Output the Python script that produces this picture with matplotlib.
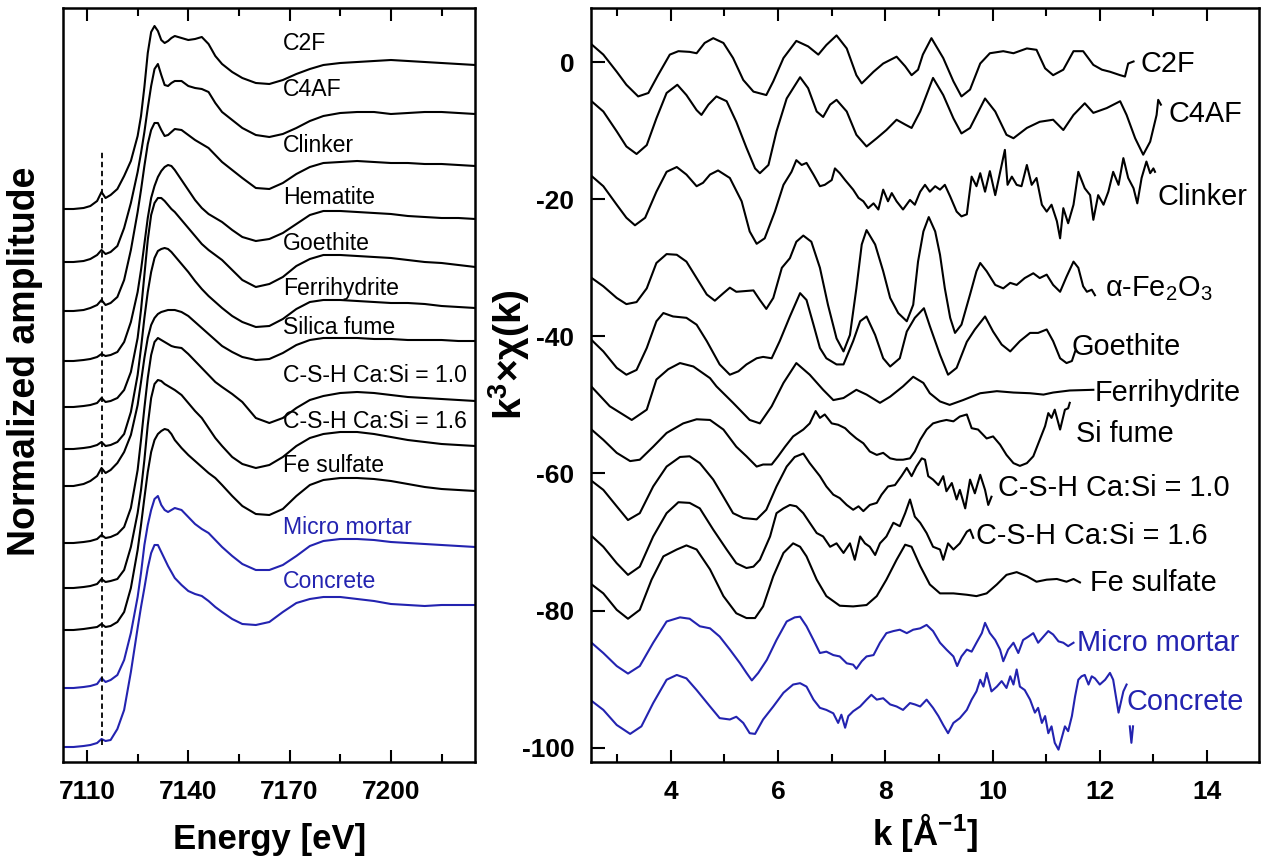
import matplotlib.pyplot as plt
from matplotlib.ticker import MultipleLocator

plt.rcParams['font.family'] = 'Liberation Sans'
plt.rcParams['font.weight'] = 'bold'
plt.rcParams['axes.unicode_minus'] = False
plt.rcParams['mathtext.fontset'] = 'custom'
plt.rcParams['mathtext.rm'] = 'Liberation Sans:regular'
plt.rcParams['mathtext.bf'] = 'Liberation Sans:bold'
plt.rcParams['mathtext.it'] = 'Liberation Sans:italic:regular'

BLUE = '#2323b0'

# ---------------- XANES data (stacked amplitude, a.u.) ----------------
energy = [7103, 7106, 7109, 7111, 7113, 7114.3, 7115.5, 7117, 7119, 7121,
          7123, 7125, 7126, 7127, 7128, 7129, 7130, 7131, 7132, 7133,
          7134, 7135, 7136, 7138, 7140, 7142, 7144, 7146, 7148, 7150,
          7153, 7156, 7160, 7164, 7168, 7172, 7176, 7180, 7185, 7190,
          7195, 7200, 7205, 7210, 7215, 7220, 7225]

xanes_c2f = [553, 553, 554, 556, 561, 570, 564, 567, 573, 586, 601, 626, 646, 675, 709, 730,
             736, 731, 722, 719, 721, 724, 726, 724, 722, 723, 725, 718, 706, 698, 690, 684,
             679, 678, 682, 688, 693, 697, 699, 700, 701, 702, 701, 700, 699, 698, 697]
xanes_c4af = [500, 500, 501, 503, 507, 512, 508, 510, 516, 534, 559, 590, 609, 630, 654, 676,
              693, 698, 687, 677, 676, 679, 681, 681, 676, 674, 673, 670, 659, 650, 642, 634,
              627, 625, 628, 634, 641, 646, 649, 650, 650, 648, 649, 650, 650, 649, 648]
xanes_clinker = [451, 451, 452, 454, 457, 462, 457, 459, 465, 482, 512, 550, 572, 596, 618, 632,
                 639, 639, 632, 626, 627, 630, 633, 632, 627, 622, 618, 614, 607, 600, 592, 584,
                 574, 573, 579, 588, 595, 599, 600, 601, 600, 599, 599, 598, 598, 597, 596]
xanes_hematite = [401, 401, 402, 403, 405, 408, 406, 407, 410, 420, 440, 470, 492, 518, 544, 564,
                  576, 585, 591, 595, 597, 596, 592, 582, 572, 562, 554, 548, 544, 540, 532, 525,
                  521, 523, 529, 538, 547, 551, 551, 550, 549, 548, 546, 545, 544, 544, 543]
xanes_goethite = [355, 355, 356, 357, 359, 364, 360, 361, 364, 372, 390, 424, 452, 487, 522, 547,
                  559, 564, 564, 561, 557, 553, 550, 542, 534, 526, 518, 512, 507, 502, 492, 482,
                  475, 478, 485, 496, 503, 507, 507, 506, 505, 504, 502, 500, 499, 497, 495]
xanes_ferrihydrite = [313, 313, 314, 315, 317, 320, 316, 317, 320, 328, 350, 387, 414, 444, 470, 490,
                      504, 511, 513, 514, 513, 510, 506, 498, 490, 481, 473, 466, 460, 454, 446, 440,
                      435, 436, 443, 453, 460, 462, 462, 461, 460, 459, 459, 458, 456, 455, 454]
xanes_silica = [276, 276, 278, 281, 286, 294, 289, 292, 299, 310, 327, 357, 380, 404, 424, 437,
                444, 448, 450, 451, 452, 452, 452, 450, 446, 440, 434, 428, 422, 416, 410, 405,
                402, 403, 409, 417, 422, 424, 424, 424, 423, 423, 422, 422, 422, 421, 421]
xanes_csh10 = [219, 219, 220, 221, 223, 227, 224, 225, 228, 235, 254, 292, 322, 354, 384, 407,
               420, 424, 422, 420, 418, 416, 415, 414, 408, 401, 394, 387, 380, 375, 368, 360,
               344, 339, 344, 354, 362, 366, 369, 370, 369, 367, 365, 364, 363, 362, 361]
xanes_csh16 = [174, 174, 175, 176, 178, 183, 180, 181, 183, 192, 215, 249, 272, 302, 337, 364,
               378, 382, 381, 378, 376, 374, 372, 367, 359, 351, 344, 334, 324, 316, 305, 298,
               294, 297, 305, 316, 324, 328, 330, 330, 328, 325, 322, 320, 318, 317, 316]
xanes_fesulfate = [132, 132, 133, 134, 135, 138, 135, 136, 140, 150, 174, 212, 237, 264, 290, 310,
                   322, 328, 331, 333, 332, 328, 322, 314, 307, 301, 295, 289, 284, 277, 266, 256,
                   248, 247, 253, 266, 277, 282, 284, 284, 283, 281, 278, 275, 273, 272, 271]
xanes_mortar = [74, 74, 75, 76, 78, 84, 80, 82, 87, 102, 129, 165, 189, 217, 237, 252,
                263, 266, 257, 252, 250, 252, 254, 252, 245, 238, 233, 229, 222, 215, 206, 198,
                192, 192, 197, 206, 216, 221, 223, 223, 222, 220, 219, 218, 217, 216, 215]
xanes_concrete = [15, 15, 16, 17, 19, 23, 21, 22, 33, 52, 90, 134, 155, 174, 194, 209,
                  217, 217, 210, 203, 196, 190, 184, 177, 171, 168, 166, 161, 155, 150, 143, 138,
                  137, 140, 150, 159, 163, 165, 165, 163, 161, 158, 157, 156, 157, 157, 157]

xanes_labels = ['C2F', 'C4AF', 'Clinker', 'Hematite', 'Goethite', 'Ferrihydrite',
                'Silica fume', 'C-S-H Ca:Si = 1.0', 'C-S-H Ca:Si = 1.6', 'Fe sulfate',
                'Micro mortar', 'Concrete']
xanes_label_y = [718, 672, 617, 565, 519, 474, 435, 387, 340, 296, 235, 181]
pre_edge_energy = 7114.4

# ---------------- EXAFS data ----------------
k_c2f = [2.49, 2.74, 2.99, 3.17, 3.39, 3.58, 3.76, 3.98, 4.14, 4.35, 4.48, 4.63, 4.79, 4.98, 5.16,
         5.35, 5.54, 5.78, 5.91, 6.10, 6.34, 6.56, 6.75, 6.90, 7.09, 7.28, 7.46, 7.56, 7.78, 7.96,
         8.21, 8.37, 8.49, 8.61, 8.70, 8.86, 9.08, 9.27, 9.42, 9.58, 9.77, 9.95, 10.20, 10.39, 10.64,
         10.82, 10.98, 11.13, 11.32, 11.51, 11.69, 11.88, 12.04, 12.19, 12.38, 12.47, 12.53, 12.63]
chi_c2f = [2.8, 1.1, -1.4, -3.3, -5.0, -4.5, -1.9, 1.1, 1.6, 1.5, 1.3, 2.8, 3.5, 2.8, 0.6,
           -2.6, -4.3, -4.8, -2.8, 0.6, 3.1, 2.3, 1.1, 2.5, 3.9, 2.0, -1.9, -3.1, -1.4, -0.2,
           0.8, -0.6, -1.9, -1.1, 1.1, 3.5, 0.6, -2.8, -5.0, -4.0, -0.2, 1.3, 1.6, 1.3, 2.0,
           1.8, -0.9, -1.9, -1.1, 1.6, 1.6, -0.4, -1.1, -1.4, -1.9, -2.1, -0.2, 0.1]

k_c4af = [2.49, 2.74, 2.99, 3.17, 3.36, 3.55, 3.73, 3.92, 4.12, 4.29, 4.48, 4.57, 4.70, 4.85, 5.04,
          5.22, 5.41, 5.57, 5.66, 5.82, 5.97, 6.16, 6.41, 6.56, 6.72, 6.84, 6.97, 7.09, 7.28, 7.46,
          7.65, 7.84, 8.02, 8.21, 8.37, 8.49, 8.65, 8.89, 9.08, 9.27, 9.42, 9.58, 9.86, 10.05, 10.26,
          10.39, 10.64, 10.88, 11.13, 11.32, 11.51, 11.72, 11.88, 12.13, 12.38, 12.50, 12.66, 12.81,
          12.94, 13.06, 13.09, 13.14]
chi_c4af = [-5.5, -7.2, -10.1, -12.3, -13.4, -12.1, -8.2, -4.5, -3.3, -4.8, -7.0, -7.7, -6.2, -5.0, -5.7,
            -8.7, -12.5, -15.5, -16.2, -15.0, -10.1, -5.3, -2.2, -3.8, -7.2, -8.0, -6.2, -5.5, -7.2, -10.6,
            -12.3, -11.1, -9.9, -8.4, -9.1, -9.6, -7.2, -2.3, -4.8, -8.2, -10.4, -9.6, -5.3, -7.2, -10.6,
            -11.1, -9.6, -8.7, -8.4, -9.9, -7.7, -6.0, -7.4, -6.7, -5.7, -7.7, -11.1, -13.5,
            -11.6, -7.7, -5.5, -6.2]

k_clinker = [2.49, 2.74, 2.99, 3.17, 3.33, 3.52, 3.73, 3.92, 4.11, 4.29,
             4.48, 4.60, 4.73, 4.88, 5.10, 5.32, 5.47, 5.60, 5.75, 5.94,
             6.10, 6.25, 6.34, 6.44, 6.53, 6.66, 6.78, 6.87, 7.00, 7.06,
             7.15, 7.25, 7.40, 7.50, 7.59, 7.68, 7.78, 7.87, 7.96, 8.05,
             8.12, 8.21, 8.33, 8.46, 8.55, 8.65, 8.74, 8.83, 8.93, 9.02,
             9.11, 9.21, 9.33, 9.42, 9.52, 9.61, 9.70, 9.77, 9.86, 9.95,
             10.05, 10.17, 10.23, 10.28, 10.36, 10.45, 10.54, 10.64, 10.73, 10.82,
             10.92, 11.01, 11.10, 11.20, 11.26, 11.32, 11.41, 11.51, 11.60, 11.72,
             11.82, 11.88, 11.97, 12.07, 12.16, 12.25, 12.35, 12.44, 12.53, 12.63,
             12.70, 12.78, 12.87, 12.94, 13.00, 13.03]
chi_clinker = [-16.4, -18.1, -20.8, -22.7, -23.8, -22.7, -18.9, -16.0, -15.3, -16.4,
               -18.1, -17.6, -16.4, -15.8, -16.9, -20.3, -24.7, -26.5, -25.7, -21.8,
               -17.9, -16.0, -14.3, -15.0, -14.7, -16.4, -18.1, -17.9, -17.2, -15.5,
               -16.2, -17.2, -18.6, -19.8, -20.3, -21.3, -20.6, -21.5, -18.6, -20.3,
               -19.1, -20.3, -21.5, -20.1, -20.8, -18.9, -17.9, -18.9, -18.1, -18.6,
               -17.9, -19.6, -21.8, -22.5, -22.2, -16.7, -18.1, -16.2, -18.9, -15.9,
               -19.4, -15.0, -12.8, -17.9, -16.7, -17.9, -18.1, -15.0, -17.9, -16.9,
               -20.8, -21.8, -20.8, -23.2, -25.7, -21.3, -23.5, -20.8, -16.0, -18.4,
               -19.4, -23.0, -19.4, -20.8, -18.9, -16.0, -17.9, -14.0, -16.9, -18.4,
               -20.6, -16.9, -14.5, -16.2, -15.5, -16.0]

k_hematite = [2.49, 2.74, 2.99, 3.17, 3.36, 3.55, 3.73, 3.92, 4.11, 4.29,
              4.48, 4.67, 4.82, 4.98, 5.10, 5.22, 5.38, 5.54, 5.66, 5.78,
              5.91, 6.07, 6.22, 6.34, 6.47, 6.62, 6.78, 6.93, 7.09, 7.22,
              7.34, 7.46, 7.56, 7.65, 7.81, 7.96, 8.09, 8.24, 8.40, 8.52,
              8.61, 8.71, 8.81, 8.93, 9.02, 9.11, 9.21, 9.30, 9.42, 9.58,
              9.70, 9.77, 9.89, 10.05, 10.20, 10.33, 10.45, 10.60, 10.76, 10.88,
              11.01, 11.13, 11.26, 11.38, 11.51, 11.60, 11.69, 11.76, 11.85, 11.91]
chi_hematite = [-31.3, -32.7, -34.4, -35.3, -35.0, -33.0, -29.3, -28.0, -28.1, -29.1,
                -31.5, -33.9, -34.8, -33.7, -32.9, -33.5, -33.4, -33.3, -34.7, -36.0,
                -34.4, -30.0, -28.6, -26.2, -25.3, -26.2, -30.0, -35.4, -40.3, -42.2,
                -39.8, -33.0, -26.6, -24.5, -26.6, -30.5, -34.4, -36.6, -37.8, -35.4,
                -29.1, -24.7, -22.6, -24.7, -28.1, -33.0, -37.3, -39.5, -38.3, -33.9,
                -30.5, -29.3, -30.5, -32.5, -33.0, -32.2, -32.5, -31.5, -30.8, -31.5,
                -31.0, -32.5, -33.5, -31.3, -29.1, -30.0, -32.7, -33.5, -33.2, -34.0]

k_goethite = [2.49, 2.74, 2.99, 3.17, 3.36, 3.55, 3.73, 3.86, 4.04, 4.29,
              4.48, 4.67, 4.91, 5.10, 5.26, 5.41, 5.60, 5.72, 5.88, 6.03,
              6.22, 6.41, 6.53, 6.66, 6.78, 6.90, 7.09, 7.22, 7.40, 7.53,
              7.65, 7.81, 7.96, 8.09, 8.27, 8.40, 8.55, 8.72, 8.83, 9.02,
              9.17, 9.33, 9.52, 9.67, 9.86, 10.01, 10.17, 10.33, 10.51, 10.70,
              10.85, 11.01, 11.13, 11.26, 11.38, 11.48, 11.54]
chi_goethite = [-40.3, -42.2, -44.6, -45.6, -44.9, -41.7, -37.8, -36.6, -37.1, -37.3,
                -38.3, -40.7, -44.1, -45.6, -45.1, -44.1, -43.2, -43.0, -43.2, -40.7,
                -37.1, -33.7, -34.7, -38.3, -41.7, -43.2, -44.1, -44.1, -40.7, -37.8,
                -37.1, -39.8, -43.2, -44.4, -43.2, -39.3, -37.3, -35.9, -38.5, -42.7,
                -45.6, -44.6, -40.8, -39.0, -37.1, -39.3, -41.2, -42.2, -40.7, -39.5,
                -39.5, -39.0, -40.7, -43.2, -43.9, -43.6, -42.2]

k_ferri = [2.49, 2.86, 3.27, 3.55, 3.73, 3.95, 4.17, 4.42, 4.73, 4.85,
           5.16, 5.47, 5.66, 5.88, 6.10, 6.34, 6.59, 6.84, 7.03, 7.22,
           7.46, 7.65, 7.90, 8.09, 8.33, 8.52, 8.71, 8.83, 9.02, 9.20,
           9.45, 9.77, 10.08, 10.39, 10.70, 10.95, 11.13, 11.44, 11.88]
chi_ferri = [-47.1, -50.2, -52.2, -50.7, -46.3, -44.8, -43.9, -44.4, -46.1, -47.3,
             -49.7, -52.2, -52.7, -50.2, -46.8, -43.9, -45.6, -47.8, -49.3, -49.0,
             -47.8, -48.5, -49.7, -48.8, -47.3, -45.9, -46.8, -48.3, -49.5, -50.0,
             -49.3, -48.3, -48.0, -48.2, -48.3, -48.5, -48.2, -47.9, -47.8]

k_sifume = [2.49, 2.74, 2.99, 3.24, 3.42, 3.67, 3.92, 4.23, 4.48, 4.73,
            4.98, 5.22, 5.41, 5.60, 5.72, 5.88, 6.00, 6.13, 6.28, 6.47,
            6.59, 6.70, 6.78, 6.87, 7.00, 7.12, 7.25, 7.34, 7.46, 7.59,
            7.71, 7.84, 7.96, 8.09, 8.21, 8.33, 8.46, 8.55, 8.65, 8.77,
            8.89, 9.02, 9.14, 9.27, 9.39, 9.52, 9.61, 9.73, 9.89, 10.01,
            10.14, 10.26, 10.39, 10.51, 10.64, 10.76, 10.88, 10.98, 11.04, 11.10,
            11.16, 11.26, 11.35, 11.41, 11.44]
chi_sifume = [-53.4, -55.1, -57.0, -58.2, -58.0, -56.1, -54.1, -52.7, -52.1, -52.2,
              -53.6, -56.1, -57.5, -59.0, -58.7, -58.7, -57.5, -56.1, -54.6, -53.6,
              -52.7, -50.9, -51.9, -51.4, -52.7, -52.9, -53.4, -54.1, -54.9, -55.6,
              -56.8, -57.3, -57.0, -57.8, -58.0, -58.0, -57.8, -56.8, -55.1, -53.6,
              -52.7, -52.4, -52.2, -52.4, -51.7, -51.4, -53.4, -53.6, -54.9, -54.6,
              -55.8, -57.3, -58.5, -58.9, -58.5, -57.5, -55.1, -53.1, -51.2, -51.9,
              -50.7, -53.6, -50.7, -50.5, -49.7]

k_csh10 = [2.49, 2.74, 2.99, 3.20, 3.42, 3.67, 3.92, 4.17, 4.35, 4.54,
           4.79, 4.98, 5.16, 5.35, 5.60, 5.78, 5.97, 6.16, 6.31, 6.47,
           6.59, 6.78, 6.90, 7.03, 7.15, 7.28, 7.40, 7.50, 7.59, 7.71,
           7.84, 7.93, 8.05, 8.18, 8.30, 8.40, 8.49, 8.58, 8.68, 8.74,
           8.80, 8.89, 8.99, 9.08, 9.14, 9.24, 9.33, 9.39, 9.49, 9.58,
           9.67, 9.77, 9.86, 9.92, 9.98]
chi_csh10 = [-60.9, -62.4, -64.8, -66.8, -65.8, -61.9, -59.0, -57.6, -57.5, -58.5,
             -60.9, -63.4, -65.8, -66.5, -66.7, -65.3, -61.9, -59.0, -57.6, -57.1,
             -58.5, -60.4, -61.9, -63.1, -63.6, -64.6, -65.3, -64.8, -65.5, -64.6,
             -64.3, -63.1, -61.9, -61.7, -60.4, -59.2, -60.4, -59.0, -57.8, -58.0,
             -60.4, -60.9, -61.7, -60.4, -62.6, -61.4, -63.8, -62.4, -65.1, -60.9,
             -62.9, -60.2, -62.4, -64.6, -63.4]

k_csh16 = [2.49, 2.74, 2.99, 3.20, 3.42, 3.67, 3.92, 4.14, 4.35, 4.54,
           4.79, 5.04, 5.22, 5.41, 5.54, 5.66, 5.85, 5.97, 6.10, 6.22,
           6.34, 6.47, 6.59, 6.72, 6.84, 6.97, 7.09, 7.22, 7.34, 7.43,
           7.53, 7.62, 7.71, 7.81, 7.90, 8.02, 8.15, 8.27, 8.37, 8.46,
           8.55, 8.65, 8.77, 8.89, 9.02, 9.08, 9.17, 9.27, 9.39, 9.52,
           9.58, 9.64]
chi_csh16 = [-68.9, -70.7, -73.1, -74.8, -73.6, -69.2, -65.8, -64.2, -64.3, -65.1,
             -68.2, -71.1, -73.1, -73.8, -73.6, -72.6, -69.2, -65.8, -65.1, -64.6,
             -64.8, -65.8, -67.2, -68.7, -69.2, -70.7, -70.2, -71.6, -70.2, -72.6,
             -69.2, -70.2, -70.7, -71.9, -70.2, -69.2, -67.2, -67.7, -65.8, -63.8,
             -66.3, -67.2, -68.7, -70.7, -71.1, -72.6, -70.2, -71.1, -70.2, -68.5,
             -68.2, -69.4]

k_fesulf = [2.49, 2.74, 2.99, 3.20, 3.42, 3.64, 3.86, 4.11, 4.29, 4.48,
            4.73, 4.98, 5.22, 5.41, 5.57, 5.72, 5.91, 6.10, 6.28, 6.41,
            6.53, 6.72, 6.90, 7.15, 7.40, 7.65, 7.84, 8.02, 8.21, 8.37,
            8.49, 8.65, 8.83, 9.02, 9.27, 9.52, 9.70, 9.89, 10.08, 10.26,
            10.45, 10.64, 10.82, 11.01, 11.20, 11.38, 11.51, 11.63]
chi_fesulf = [-76.0, -77.5, -79.9, -81.2, -79.9, -75.5, -72.1, -71.1, -70.5, -71.1,
              -74.0, -77.9, -80.4, -81.1, -81.1, -79.4, -75.0, -71.6, -70.2, -70.7,
              -72.1, -75.5, -77.9, -79.3, -79.4, -79.2, -77.9, -75.5, -72.6, -70.4,
              -70.7, -73.5, -76.2, -77.5, -77.5, -77.7, -77.9, -77.5, -76.2, -74.8,
              -74.4, -75.0, -75.8, -75.5, -75.4, -75.8, -75.4, -75.9]

k_mortar = [2.49, 2.74, 2.99, 3.20, 3.42, 3.67, 3.92, 4.17, 4.35, 4.54,
            4.73, 4.91, 5.10, 5.29, 5.41, 5.51, 5.63, 5.79, 5.97, 6.16,
            6.31, 6.41, 6.53, 6.66, 6.78, 6.90, 7.03, 7.15, 7.28, 7.40,
            7.46, 7.56, 7.65, 7.78, 7.90, 8.02, 8.15, 8.27, 8.40, 8.52,
            8.65, 8.77, 8.89, 9.02, 9.14, 9.27, 9.34, 9.42, 9.52, 9.61,
            9.70, 9.80, 9.86, 9.95, 10.05, 10.14, 10.20, 10.29, 10.39, 10.48,
            10.57, 10.67, 10.76, 10.85, 10.95, 11.04, 11.13, 11.23, 11.32, 11.41, 11.51]
chi_mortar = [-84.5, -86.2, -88.1, -89.2, -88.1, -84.7, -81.6, -81.0, -81.2, -82.3,
              -82.6, -83.8, -85.7, -87.7, -89.1, -90.2, -89.1, -87.2, -84.3, -81.6,
              -81.0, -80.9, -82.3, -84.3, -86.2, -86.0, -86.5, -86.7, -87.7, -87.9,
              -88.5, -87.4, -86.7, -86.5, -84.7, -83.3, -83.0, -82.8, -83.3, -82.8,
              -82.6, -82.1, -83.0, -84.7, -85.7, -86.7, -88.1, -86.7, -85.7, -86.0,
              -84.7, -83.3, -81.8, -83.3, -84.3, -85.7, -87.4, -85.7, -84.7, -86.2,
              -84.3, -83.8, -83.3, -84.7, -83.8, -83.0, -83.5, -84.5, -84.7, -85.2, -84.7]

k_concrete = [2.49, 2.74, 2.99, 3.24, 3.45, 3.67, 3.92, 4.11, 4.29, 4.48,
              4.73, 4.91, 5.10, 5.22, 5.35, 5.47, 5.57, 5.72, 5.91, 6.10,
              6.28, 6.41, 6.53, 6.66, 6.78, 6.90, 7.03, 7.12, 7.18, 7.25,
              7.31, 7.40, 7.53, 7.65, 7.74, 7.84, 7.96, 8.09, 8.21, 8.33,
              8.46, 8.55, 8.65, 8.77, 8.89, 8.99, 9.08, 9.17, 9.27, 9.39,
              9.52, 9.61, 9.70, 9.77, 9.83, 9.89, 9.98, 10.08, 10.17, 10.26,
              10.33, 10.39, 10.45, 10.51, 10.60, 10.70, 10.79, 10.85, 10.92, 10.98,
              11.04, 11.10, 11.16, 11.23, 11.29, 11.35, 11.41, 11.48, 11.54, 11.60,
              11.66, 11.72, 11.79, 11.85, 11.91, 12.00, 12.10, 12.19, 12.25, 12.35,
              12.44, 12.50, float('nan'), 12.56, 12.59, 12.62]
chi_concrete = [-93.0, -94.5, -96.7, -98.0, -96.9, -93.5, -90.1, -89.4, -89.9, -91.6,
                -94.0, -95.7, -95.9, -95.5, -96.4, -97.9, -98.0, -95.9, -94.0, -92.0,
                -90.8, -90.6, -91.1, -93.0, -94.2, -94.5, -95.0, -96.4, -95.2, -97.1,
                -95.4, -94.7, -94.0, -93.0, -92.3, -93.0, -92.8, -93.7, -94.0, -94.5,
                -93.5, -93.7, -94.0, -93.0, -94.2, -95.4, -96.7, -97.9, -96.4, -95.7,
                -94.5, -93.0, -91.8, -90.1, -91.1, -89.1, -91.8, -91.1, -90.3, -91.3,
                -89.6, -90.8, -88.6, -91.1, -91.6, -93.0, -94.9, -94.2, -96.4, -95.4,
                -97.9, -96.9, -99.3, -100.3, -98.6, -96.9, -97.6, -95.4, -92.5, -90.1,
                -89.6, -89.4, -90.8, -89.6, -89.9, -90.8, -90.1, -89.1, -90.1, -94.9,
                -91.8, -90.8, float('nan'), -96.9, -99.3, -96.9]

exafs_labels = ['C2F', 'C4AF', 'Clinker', 'α-Fe$_2$O$_3$', 'Goethite', 'Ferrihydrite',
                'Si fume', 'C-S-H Ca:Si = 1.0', 'C-S-H Ca:Si = 1.6', 'Fe sulfate',
                'Micro mortar', 'Concrete']
exafs_label_k = [12.76, 13.28, 13.08, 12.10, 11.47, 11.90, 11.55, 10.11, 9.69, 11.82, 11.57, 12.49]
exafs_label_y = [-0.2, -7.6, -19.7, -33.0, -41.6, -48.3, -54.2, -62.1, -69.2, -76.0, -84.7, -93.3]

colors = ['black'] * 10 + [BLUE, BLUE]

# ---------------- figure ----------------
W, H = 1261, 856
fig = plt.figure(figsize=(W / 100, H / 100), dpi=100)
axL = fig.add_axes([63 / W, 94 / H, 412 / W, 754 / H])
axR = fig.add_axes([591 / W, 94 / H, 668 / W, 754 / H])

# Left: XANES
xanes = [xanes_c2f, xanes_c4af, xanes_clinker, xanes_hematite, xanes_goethite,
         xanes_ferrihydrite, xanes_silica, xanes_csh10, xanes_csh16, xanes_fesulfate,
         xanes_mortar, xanes_concrete]
for amp, lab, ly, c in zip(xanes, xanes_labels, xanes_label_y, colors):
    axL.plot(energy, amp, color=c, lw=1.5)
    axL.text(7168.1, ly, lab, color=c, fontsize=16.6, fontweight='normal',
             ha='left', va='center')

axL.set_xlim(7102.9, 7224.9)
axL.set_ylim(0, 754)
axL.axvline(pre_edge_energy, ymin=17 / 754, ymax=610 / 754, color='black',
            lw=1.3, ls=(0, (3, 2)))
axL.xaxis.set_major_locator(MultipleLocator(30))
axL.xaxis.set_minor_locator(MultipleLocator(15))
axL.tick_params(axis='x', which='both', direction='in', top=True, width=1.5,
                labelsize=19, pad=13)
axL.tick_params(axis='x', which='major', length=9)
axL.tick_params(axis='x', which='minor', length=6)
axL.tick_params(axis='y', left=False, labelleft=False)

# Right: EXAFS
exafs = [(k_c2f, chi_c2f), (k_c4af, chi_c4af), (k_clinker, chi_clinker),
         (k_hematite, chi_hematite), (k_goethite, chi_goethite), (k_ferri, chi_ferri),
         (k_sifume, chi_sifume), (k_csh10, chi_csh10), (k_csh16, chi_csh16),
         (k_fesulf, chi_fesulf), (k_mortar, chi_mortar), (k_concrete, chi_concrete)]
for (kk, cc), lab, lk, ly, c in zip(exafs, exafs_labels, exafs_label_k, exafs_label_y, colors):
    axR.plot(kk, cc, color=c, lw=1.5)
    axR.text(lk, ly, lab, color=c, fontsize=20.8, fontweight='normal',
             ha='left', va='center')

axR.set_xlim(2.51, 14.97)
axR.set_ylim(-102.1, 7.9)
axR.xaxis.set_major_locator(MultipleLocator(2))
axR.xaxis.set_minor_locator(MultipleLocator(1))
axR.yaxis.set_major_locator(MultipleLocator(20))
axR.tick_params(axis='x', which='both', direction='in', top=True, width=1.5,
                labelsize=19, pad=13)
axR.tick_params(axis='x', which='major', length=9)
axR.tick_params(axis='x', which='minor', length=6)
axR.tick_params(axis='y', direction='in', length=10, width=1.5, labelsize=19, pad=12)

for ax in (axL, axR):
    for s in ax.spines.values():
        s.set_linewidth(1.8)

fig.text(25 / W, 1 - 361 / H, 'Normalized amplitude', rotation=90, fontsize=27,
         fontweight='bold', ha='center', va='center')
fig.text(509 / W, 1 - 355 / H, r'k$^{\mathbf{3}}$×χ(k)', rotation=90, fontsize=28,
         fontweight='bold', ha='center', va='center')
fig.text(270 / W, 1 - 840 / H, 'Energy [eV]', fontsize=25, fontweight='bold',
         ha='center', va='center')
fig.text(925 / W, 1 - 833 / H, r'k [Å$^{\mathbf{-1}}$]', fontsize=25, fontweight='bold',
         ha='center', va='center')

fig.savefig('out.png', dpi=100)
